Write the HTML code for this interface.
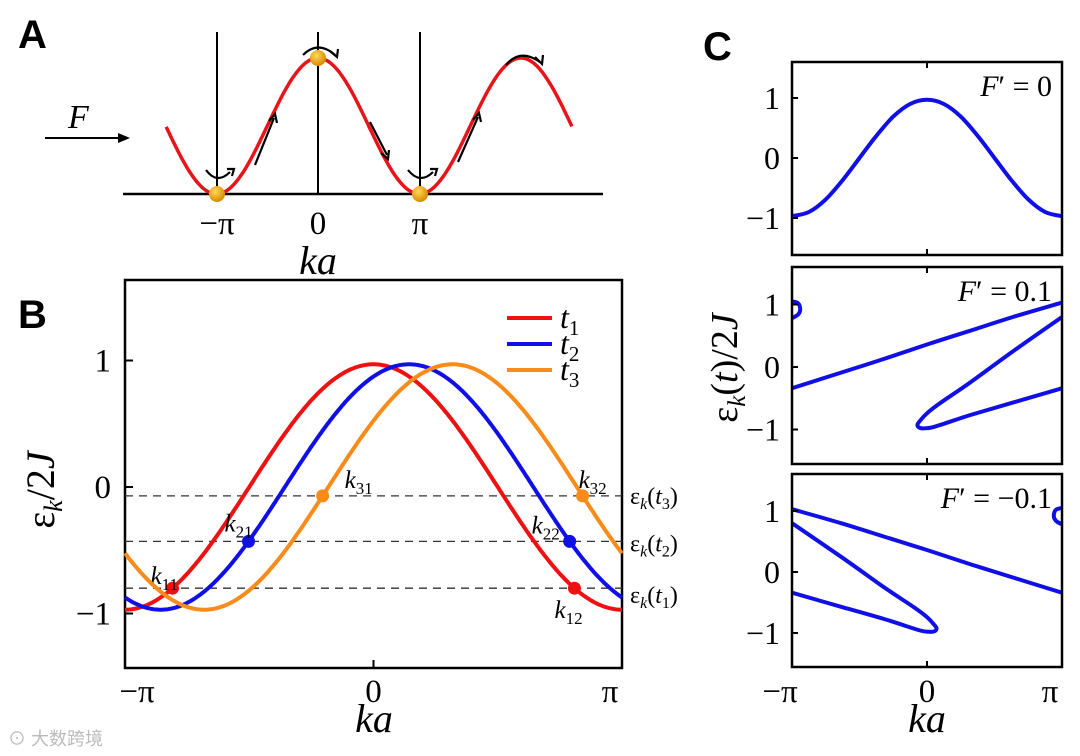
<!DOCTYPE html>
<html><head><meta charset="utf-8"><style>
html,body{margin:0;padding:0;background:#fff;width:1080px;height:756px;overflow:hidden}
svg{display:block}
.serif{font-family:"Liberation Serif",serif}
.sans{font-family:"Liberation Sans",sans-serif}
</style></head><body>
<svg id="fig" width="1080" height="756" viewBox="0 0 1080 756" xmlns="http://www.w3.org/2000/svg">
<defs><radialGradient id="gold" cx="40%" cy="35%" r="65%"><stop offset="0" stop-color="#ffd85a"/><stop offset="1" stop-color="#d68a00"/></radialGradient></defs>

<!-- Panel A -->
<g>
<text x="18" y="48" class="sans" font-weight="bold" font-size="40">A</text>
<line x1="123" y1="194" x2="603" y2="194" stroke="#000" stroke-width="2.5"/>
<line x1="217" y1="32" x2="217" y2="194" stroke="#000" stroke-width="2"/>
<line x1="318" y1="32" x2="318" y2="194" stroke="#000" stroke-width="2"/>
<line x1="420" y1="32" x2="420" y2="194" stroke="#000" stroke-width="2"/>
<path id="curveA" fill="none" stroke="#e8141a" stroke-width="3.5"/>
<line x1="45" y1="138" x2="122" y2="138" stroke="#000" stroke-width="2"/>
<path d="M130 138 L118 133 L118 143 Z" fill="#000"/>
<text x="68" y="128" class="serif" font-style="italic" font-size="34">F</text>
<g stroke="#000" stroke-width="2.2" fill="none">
<path d="M206 170 Q217 185 230 172"/><path d="M227 169 L234 169 L232 176" />
<path d="M303 55 Q318 40 335 55"/><path d="M330 51 L337 57 L338 49"/>
<path d="M408 170 Q420 185 433 172"/><path d="M430 169 L437 169 L435 176"/>
<path d="M506 65 Q520 48 540 62"/><path d="M535 57 L542 64 L543 55"/>
<path d="M255 165 L274 118"/><path d="M269 121 L275 114 L277 123"/>
<path d="M370 122 L387 155"/><path d="M381 153 L388 159 L389 150"/>
<path d="M458 162 L478 117"/><path d="M473 120 L479 113 L481 122"/>
</g>
<circle cx="217" cy="194" r="8" fill="url(#gold)"/>
<circle cx="318" cy="58" r="8" fill="url(#gold)"/>
<circle cx="420" cy="194" r="8" fill="url(#gold)"/>
<text x="217" y="234" text-anchor="middle" class="serif" font-size="33">−π</text>
<text x="318" y="234" text-anchor="middle" class="serif" font-size="33">0</text>
<text x="420" y="234" text-anchor="middle" class="serif" font-size="33">π</text>
<text x="318" y="274" text-anchor="middle" class="serif" font-style="italic" font-size="40">ka</text>
</g>

<!-- Panel B -->
<g id="panelB">
<text x="18" y="328" class="sans" font-weight="bold" font-size="40">B</text>
<rect x="125" y="280" width="497" height="388" fill="none" stroke="#000" stroke-width="2.5"/>
<text transform="translate(54,490) rotate(-90)" text-anchor="middle" class="serif" font-size="40">ε<tspan font-style="italic" font-size="26" dy="8">k</tspan><tspan dy="-8">/2</tspan><tspan font-style="italic">J</tspan></text>
<text x="374" y="732" text-anchor="middle" class="serif" font-style="italic" font-size="40">ka</text>
</g>

<!-- Panel C -->
<g id="panelC">
<text x="703" y="60" class="sans" font-weight="bold" font-size="40">C</text>
<text transform="translate(737,368) rotate(-90)" text-anchor="middle" class="serif" font-size="38">ε<tspan font-style="italic" font-size="25" dy="8">k</tspan><tspan dy="-8">(</tspan><tspan font-style="italic">t</tspan>)/2<tspan font-style="italic">J</tspan></text>
<text x="927" y="732" text-anchor="middle" class="serif" font-style="italic" font-size="40">ka</text>
</g>
<text x="8" y="745" class="sans" font-size="18" fill="#bbb">⊙ 大数跨境</text>
</svg>
<script>
var NS="http://www.w3.org/2000/svg";
function mk(tag,attrs,parent){var e=document.createElementNS(NS,tag);for(var k in attrs)e.setAttribute(k,attrs[k]);(parent||document.getElementById('fig')).appendChild(e);return e;}
var PI=Math.PI;

// ---- Panel A data ----
var aRange=[-4.7,7.86];
var aAmp=68, aMid=126;
(function(){var d="";for(var i=0;i<=300;i++){var k=aRange[0]+(aRange[1]-aRange[0])*i/300;var x=318+k*101.5/PI,y=aMid-aAmp*Math.cos(k);d+=(i?"L":"M")+x.toFixed(1)+" "+y.toFixed(1);}document.getElementById('curveA').setAttribute('d',d);})();

// ---- Panel B data ----
var bSeries=["t1","t2","t3"];
var bShifts=[0,0.45,1.0];
var bAmp=0.97;
var bColors=["#ee1111","#1010e6","#f98b1a"];
var bLevels=[-0.8,-0.43,-0.07];
var bLevelLabels=["t1","t2","t3"];
var bYTicks=[1,0,-1];
var bYTickLabels=["1","0","−1"];
var bXTicks=[-PI,0,PI];
var bXTickLabels=["−π","0","π"];
var bX0=125,bX1=622,bY0=280,bY1=668;
function xB(k){return bX0+(k+PI)/(2*PI)*(bX1-bX0);}
function yB(e){return 487-126.5*e;}
var gB=document.getElementById('panelB');
bYTicks.forEach(function(v,i){
 var t=mk('line',{x1:bX0,x2:bX0+8,y1:yB(v),y2:yB(v),stroke:'#000','stroke-width':2},gB);
 
 
 var l=mk('text',{x:bX0-14,y:yB(v)+11,'text-anchor':'end','class':'serif','font-size':33},gB);l.textContent=bYTickLabels[i];
 
 
});
bXTicks.forEach(function(v,i){
 var t=mk('line',{x1:xB(v),x2:xB(v),y1:bY1,y2:bY1-8,stroke:'#000','stroke-width':2},gB);
 
 
 var l=mk('text',{x:i==0?xB(v)+12:(i==2?xB(v)-12:xB(v)),y:702,'text-anchor':'middle','class':'serif','font-size':33},gB);l.textContent=bXTickLabels[i];
 
 
});
bLevels.forEach(function(v,i){
 var d=mk('line',{x1:bX0,x2:bX1,y1:yB(v),y2:yB(v),stroke:'#333','stroke-width':1.3,'stroke-dasharray':'8 6'},gB);
 
 
 var l=mk('text',{x:630,y:yB(v)+(i==0?15:i==1?10:8),'class':'serif','font-size':24},gB);
 l.innerHTML='ε<tspan font-style="italic" font-size="16" dy="5">k</tspan><tspan dy="-5">(</tspan><tspan font-style="italic">t</tspan><tspan font-size="16" dy="5">'+(i+1)+'</tspan><tspan dy="-5">)</tspan>';
 
 
});
bSeries.forEach(function(s,i){
 var d="";for(var j=0;j<=300;j++){var k=-PI+2*PI*j/300;d+=(j?"L":"M")+xB(k).toFixed(1)+" "+yB(bAmp*Math.cos(k-bShifts[i])).toFixed(1);}
 var p=mk('path',{d:d,fill:'none',stroke:bColors[i],'stroke-width':4},gB);
 
 
 var ly=318+26*i;
 var ll=mk('line',{x1:507,x2:552,y1:ly,y2:ly,stroke:bColors[i],'stroke-width':4},gB);
 
 
 var lt=mk('text',{x:560,y:ly+10,'class':'serif','font-size':32,'font-style':'italic'},gB);
 lt.innerHTML='t<tspan font-style="normal" font-size="21" dy="7">'+(i+1)+'</tspan>';
 
 
 var a=Math.acos(bLevels[i]/bAmp);
 [bShifts[i]-a,bShifts[i]+a].forEach(function(k,m){
  var c=mk('circle',{cx:xB(k),cy:yB(bLevels[i]),r:6.5,fill:bColors[i]},gB);
  
  
  var off=[[[-22,-4],[-20,30]],[[-24,-10],[-38,-8]],[[22,-8],[-4,-8]]][i][m];
  var t=mk('text',{x:xB(k)+off[0],y:yB(bLevels[i])+off[1],'class':'serif','font-size':25,'font-style':'italic'},gB);
  t.innerHTML='k<tspan font-style="normal" font-size="17" dy="6">'+(i+1)+(m+1)+'</tspan>';
  
  
 });
});

// ---- Panel C data ----
var cTitles=["F′ = 0","F′ = 0.1","F′ = −0.1"];
var cBoxTop=[62,267,474];
var cBoxBot=[255,464,667];
var cZero=[158,367,572];
var cUnit=[60,62.5,61];
var c0k=[-3.1416,-2.7489,-2.3562,-1.9635,-1.5708,-1.1781,-0.7854,-0.3927,0,0.3927,0.7854,1.1781,1.5708,1.9635,2.3562,2.7489,3.1416];
var c0e=[-0.97,-0.9,-0.69,-0.37,0.0,0.37,0.69,0.9,0.97,0.9,0.69,0.37,0.0,-0.37,-0.69,-0.9,-0.97];
var c1aK=[-3.1416,-2,-1,0,1,2,3.1416];
var c1aE=[-0.34,-0.09,0.13,0.36,0.58,0.80,1.03];
var c1bK=[3.1416,2,1,0.3,0,-0.15,-0.22,-0.18,-0.05,0.2,1,2,3.1416];
var c1bE=[0.8,0.25,-0.25,-0.58,-0.74,-0.85,-0.92,-0.97,-0.98,-0.95,-0.77,-0.57,-0.34];
var c1cK=[-3.1416,-3.0,-2.95,-3.0,-3.1416];
var c1cE=[1.05,1.02,0.92,0.84,0.78];
var c2aK=[-3.1416,-2,-1,0,1,2,3.1416];
var c2aE=[1.03,0.80,0.58,0.36,0.13,-0.09,-0.34];
var c2bK=[-3.1416,-2,-1,-0.3,0,0.15,0.22,0.18,0.05,-0.2,-1,-2,-3.1416];
var c2bE=[0.8,0.25,-0.25,-0.58,-0.74,-0.85,-0.92,-0.97,-0.98,-0.95,-0.77,-0.57,-0.34];
var c2cK=[3.1416,3.0,2.95,3.0,3.1416];
var c2cE=[1.05,1.02,0.92,0.84,0.78];
var cBranches=[[[c0k,c0e]],[[c1aK,c1aE],[c1bK,c1bE],[c1cK,c1cE]],[[c2aK,c2aE],[c2bK,c2bE],[c2cK,c2cE]]];
var cYTicks=[1,0,-1];
var cYTickLabels=["1","0","−1"];
var cXTickLabels=["−π","0","π"];
var cX0=792,cX1=1062;
function xC(k){return cX0+(k+PI)/(2*PI)*(cX1-cX0);}
var gC=document.getElementById('panelC');
function smoothPath(pts){var d="M"+pts[0][0]+" "+pts[0][1];for(var i=0;i<pts.length-1;i++){var p0=pts[Math.max(i-1,0)],p1=pts[i],p2=pts[i+1],p3=pts[Math.min(i+2,pts.length-1)];d+="C"+(p1[0]+(p2[0]-p0[0])/6).toFixed(1)+" "+(p1[1]+(p2[1]-p0[1])/6).toFixed(1)+" "+(p2[0]-(p3[0]-p1[0])/6).toFixed(1)+" "+(p2[1]-(p3[1]-p1[1])/6).toFixed(1)+" "+p2[0].toFixed(1)+" "+p2[1].toFixed(1);}return d;}
for(var p=0;p<3;p++){
 (function(p){
 function yC(e){return cZero[p]-cUnit[p]*e;}
 var cp=mk('clipPath',{id:'clip'+p},gC);
 mk('rect',{x:cX0,y:cBoxTop[p],width:cX1-cX0,height:cBoxBot[p]-cBoxTop[p]},cp);
 cBranches[p].forEach(function(b,bi){
  var pts=b[0].map(function(k,j){return [xC(k),yC(b[1][j])];});
  var path=mk('path',{d:smoothPath(pts),fill:'none',stroke:'#1010e6','stroke-width':4,'clip-path':'url(#clip'+p+')'},gC);
  
  
 });
 var r=mk('rect',{x:cX0,y:cBoxTop[p],width:cX1-cX0,height:cBoxBot[p]-cBoxTop[p],fill:'none',stroke:'#000','stroke-width':2.5},gC);
 
 
 cYTicks.forEach(function(v,i){
  var t=mk('line',{x1:cX0,x2:cX0+6,y1:yC(v),y2:yC(v),stroke:'#000','stroke-width':2},gC);
  
  
  var l=mk('text',{x:cX0-12,y:yC(v)+11,'text-anchor':'end','class':'serif','font-size':32},gC);l.textContent=cYTickLabels[i];
  
  
 });
 [cBoxTop[p],cBoxBot[p]].forEach(function(y,i){
  var t=mk('line',{x1:xC(0),x2:xC(0),y1:y,y2:y+(i?-6:6),stroke:'#000','stroke-width':2},gC);
  
  
 });
 var tt=mk('text',{x:1052,y:cBoxTop[p]+34,'text-anchor':'end','class':'serif','font-size':30},gC);
 tt.innerHTML='<tspan font-style="italic">F</tspan>′ = '+cTitles[p].split('= ')[1];
 
 
 })(p);
}
[-PI,0,PI].forEach(function(v,i){
 var l=mk('text',{x:i==0?xC(v)-12:(i==2?xC(v)-12:xC(v)),y:702,'text-anchor':'middle','class':'serif','font-size':33},gC);l.textContent=cXTickLabels[i];
 
 
});
</script>
</body></html>
